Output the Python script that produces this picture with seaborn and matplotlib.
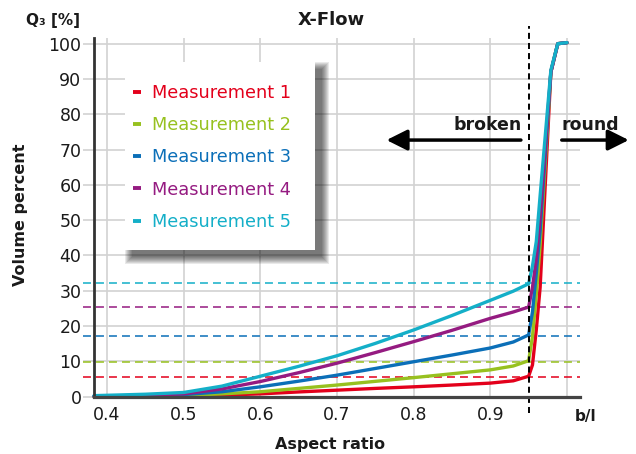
import numpy as np
import pandas as pd
import seaborn as sns
import matplotlib
matplotlib.use("Agg")
import matplotlib.pyplot as plt
from matplotlib.patches import Rectangle

# ---------------- data ----------------
aspect = [0.383, 0.40, 0.45, 0.50, 0.55, 0.60, 0.65, 0.70, 0.75, 0.80, 0.85,
          0.90, 0.93, 0.95, 0.955, 0.96, 0.965, 0.979, 0.988, 1.00]
m1 = [0.0, 0.02, 0.1, 0.2, 0.45, 0.8, 1.35, 1.85, 2.35, 2.8, 3.3,
      3.85, 4.5, 5.8, 9.0, 19.0, 31.0, 92.0, 100.0, 100.3]
m2 = [0.0, 0.05, 0.15, 0.35, 0.8, 1.4, 2.35, 3.3, 4.35, 5.4, 6.5,
      7.6, 8.7, 10.2, 17.0, 29.0, 43.0, 92.0, 100.0, 100.3]
m3 = [0.1, 0.1, 0.3, 0.6, 1.4, 2.8, 4.4, 6.1, 8.0, 9.9, 11.8,
      13.8, 15.5, 17.5, 24.0, 35.0, 47.0, 92.0, 100.0, 100.3]
m4 = [0.1, 0.2, 0.4, 0.8, 2.2, 4.3, 6.8, 9.5, 12.5, 15.6, 18.8,
      22.2, 24.0, 25.4, 31.0, 39.0, 51.0, 92.0, 100.0, 100.3]
m5 = [0.3, 0.4, 0.7, 1.2, 3.0, 5.8, 8.6, 11.6, 15.1, 18.9, 23.0,
      27.3, 29.9, 32.0, 37.0, 44.0, 57.0, 92.5, 100.0, 100.3]
series_names = ["Measurement 1", "Measurement 2", "Measurement 3",
                "Measurement 4", "Measurement 5"]
levels = [5.7, 9.7, 17.3, 25.4, 32.1]   # dashed reference levels at b/l = 0.95
boundary = 0.95
xticks = [0.4, 0.5, 0.6, 0.7, 0.8, 0.9, 1.0]
yticks = [0, 10, 20, 30, 40, 50, 60, 70, 80, 90, 100]
xtick_labels = ["0.4", "0.5", "0.6", "0.7", "0.8", "0.9", ""]

colors = ["#e3001b", "#97c11f", "#0b6fb8", "#951b81", "#14afc8"]

df = pd.DataFrame({
    "aspect": aspect * 5,
    "value": m1 + m2 + m3 + m4 + m5,
    "series": sum([[n] * len(aspect) for n in series_names], []),
})

# ---------------- figure ----------------
sns.set_theme(style="white")
plt.rcParams["font.family"] = ["DejaVu Sans"]
fig = plt.figure(figsize=(6.36, 4.54), dpi=100)
ax = fig.add_axes([94 / 636, 1 - 396.7 / 454, 486 / 636, 358.3 / 454])

ax.set_xlim(0.383, 1.017)
ax.set_ylim(0, 101.5)

sns.lineplot(data=df, x="aspect", y="value", hue="series",
             palette=colors, estimator=None, sort=False, lw=2.4,
             ax=ax, zorder=4, legend=True)
for ln in ax.get_lines():
    ln.set_clip_on(False)
    ln.set_solid_joinstyle("round")

# reference dashed levels
for lev, c in zip(levels, colors):
    ax.axhline(lev, xmin=-0.023, xmax=1.0, color=c, lw=1.3, alpha=0.85,
               ls=(0, (4.4, 2.8)), clip_on=False, zorder=3)

# vertical boundary line
ax.axvline(boundary, ymin=-0.045, ymax=1.035, color="black", lw=1.4,
           ls=(0, (3.1, 2.1)), clip_on=False, zorder=5)

# grid
ax.set_xticks(xticks)
ax.set_xticklabels(xtick_labels)
ax.set_yticks(yticks)
ax.grid(True, color="#d2d2d2", lw=1.2)
ax.set_axisbelow(True)
ax.tick_params(axis="x", length=0, pad=7, labelsize=12.5, labelcolor="#1a1a1a")
ax.tick_params(axis="y", length=8, width=1.2, color="#d2d2d2", pad=1,
               labelsize=12.5, labelcolor="#1a1a1a", left=True)

for s in ["top", "right"]:
    ax.spines[s].set_visible(False)
ax.spines["left"].set_color("#333333")
ax.spines["left"].set_linewidth(2.0)
ax.spines["bottom"].set_color("#444444")
ax.spines["bottom"].set_linewidth(2.3)
ax.spines["left"].set_zorder(6)
ax.spines["bottom"].set_zorder(6)

ax.set_xlabel("")
ax.set_ylabel("")

# labels
fig.text(26 / 636, 1 - 20 / 454, "Q₃ [%]", fontsize=11, fontweight="bold",
         ha="left", va="center", color="#1a1a1a")
fig.text(331 / 636, 1 - 20 / 454, "X-Flow", fontsize=13, fontweight="bold",
         ha="center", va="center", color="#1a1a1a")
fig.text(21 / 636, 1 - 215 / 454, "Volume percent", fontsize=11.5,
         fontweight="bold", rotation=90, ha="center", va="center",
         color="#1a1a1a")
fig.text(330 / 636, 1 - 445 / 454, "Aspect ratio", fontsize=11.5,
         fontweight="bold", ha="center", va="center", color="#1a1a1a")
fig.text(586 / 636, 1 - 417 / 454, "b/l", fontsize=11, fontweight="bold",
         ha="center", va="center", color="#1a1a1a")

# arrows
ax.annotate("", xy=(0.7646, 72.7), xytext=(0.9399, 72.7),
            arrowprops=dict(arrowstyle="-|>,head_length=0.9,head_width=0.45",
                            lw=2.5, color="black", mutation_scale=14,
                            shrinkA=0, shrinkB=0),
            annotation_clip=False, zorder=6)
ax.annotate("", xy=(1.0806, 72.7), xytext=(0.9932, 72.7),
            arrowprops=dict(arrowstyle="-|>,head_length=0.9,head_width=0.45",
                            lw=2.5, color="black", mutation_scale=14,
                            shrinkA=0, shrinkB=0),
            annotation_clip=False, zorder=6)
ax.text(0.9416, 76.9, "broken", fontsize=12.5, fontweight="bold",
        ha="right", va="center", color="#1a1a1a", zorder=6)
ax.text(0.9935, 76.9, "round", fontsize=12.5, fontweight="bold",
        ha="left", va="center", color="#1a1a1a", zorder=6, clip_on=False)

# legend box with soft shadow (offset right/down, blurred)
bx0, bx1 = (125 - 94) / 486, (315 - 94) / 486
by0, by1 = (396.7 - 250) / 358.3, (396.7 - 62) / 358.3
px = 1 / 486
py = 1 / 358.3
off = 7
for k in range(8):
    grow = 7 - k
    ax.add_patch(Rectangle((bx0 + (off - grow) * px, by0 - (off + grow) * py),
                           (bx1 - bx0) + 2 * grow * px,
                           (by1 - by0) + 2 * grow * py,
                           transform=ax.transAxes, facecolor="black",
                           edgecolor="none", alpha=0.085, zorder=7,
                           clip_on=False))
ax.add_patch(Rectangle((bx0, by0), bx1 - bx0, by1 - by0,
                       transform=ax.transAxes, facecolor="white",
                       edgecolor="none", zorder=8, clip_on=False))

handles, labels = ax.get_legend_handles_labels()
leg = ax.legend(handles, labels, loc="upper left",
                bbox_to_anchor=((133 - 94) / 486, (396.7 - 84) / 358.3),
                frameon=False, fontsize=12.8, handlelength=0.45,
                handletextpad=0.6, labelspacing=0.8, borderpad=0,
                borderaxespad=0)
leg.set_zorder(9)
for txt, c in zip(leg.get_texts(), colors):
    txt.set_color(c)
for h in leg.legend_handles:
    h.set_linewidth(2.8)
    h.set_solid_capstyle("butt")

fig.savefig("out.png", dpi=100)
